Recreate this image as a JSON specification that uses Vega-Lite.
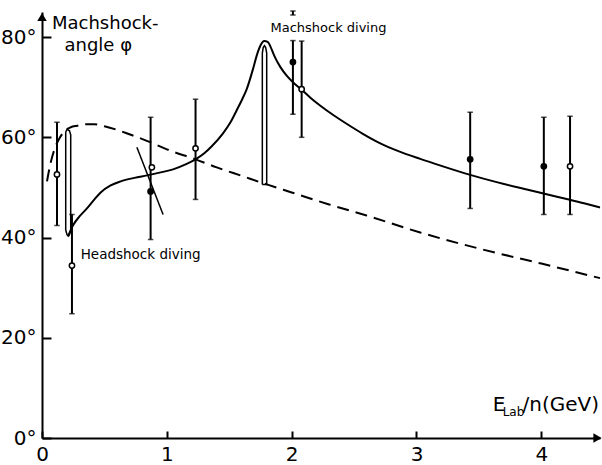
{
  "$schema": "https://vega.github.io/schema/vega-lite/v6.json",
  "width": 558,
  "height": 426,
  "autosize": {"type": "none"},
  "padding": {"left": 42, "top": 12, "right": 2, "bottom": 27},
  "background": "white",
  "config": {
    "view": {"stroke": null},
    "axis": {
      "grid": false,
      "domainColor": "black",
      "domainWidth": 2,
      "tickColor": "black",
      "tickWidth": 2,
      "labelColor": "black",
      "labelFont": "DejaVu Sans",
      "labelFontSize": 20,
      "title": null
    }
  },
  "datasets": {
    "dashed": [
      {"x": 0.04, "y": 51.2}, {"x": 0.07, "y": 55}, {"x": 0.1, "y": 57.6}, {"x": 0.14, "y": 59.8},
      {"x": 0.18, "y": 61.2}, {"x": 0.23, "y": 62}, {"x": 0.28, "y": 62.3}, {"x": 0.35, "y": 62.6},
      {"x": 0.42, "y": 62.6}, {"x": 0.5, "y": 62.2}, {"x": 0.6, "y": 61.5}, {"x": 0.7, "y": 60.6},
      {"x": 0.85, "y": 59.2}, {"x": 1.0, "y": 57.6}, {"x": 1.23, "y": 55.6}, {"x": 1.4, "y": 54},
      {"x": 1.6, "y": 52.3}, {"x": 1.8, "y": 50.6}, {"x": 2.0, "y": 49}, {"x": 2.3, "y": 46.6},
      {"x": 2.6, "y": 44.4}, {"x": 3.03, "y": 41}, {"x": 3.5, "y": 37.8}, {"x": 4.0, "y": 34.8},
      {"x": 4.47, "y": 31.9}
    ],
    "solid": [
      {"x": 0.21, "y": 40.3}, {"x": 0.25, "y": 42.5}, {"x": 0.3, "y": 44.2}, {"x": 0.36, "y": 45.8},
      {"x": 0.42, "y": 47.6}, {"x": 0.47, "y": 49}, {"x": 0.55, "y": 50.4}, {"x": 0.63, "y": 51.2},
      {"x": 0.74, "y": 51.9}, {"x": 0.84, "y": 52.4}, {"x": 0.95, "y": 53}, {"x": 1.05, "y": 53.6},
      {"x": 1.15, "y": 54.6}, {"x": 1.23, "y": 55.6}, {"x": 1.3, "y": 56.8}, {"x": 1.36, "y": 58.2},
      {"x": 1.45, "y": 60.8}, {"x": 1.51, "y": 63}, {"x": 1.56, "y": 65.4}, {"x": 1.6, "y": 67.4},
      {"x": 1.64, "y": 69.6}, {"x": 1.69, "y": 73.6}, {"x": 1.72, "y": 76.3}, {"x": 1.75, "y": 78.3},
      {"x": 1.78, "y": 79.2}, {"x": 1.81, "y": 79}, {"x": 1.83, "y": 78.1}, {"x": 1.86, "y": 76.3},
      {"x": 1.91, "y": 74}, {"x": 1.96, "y": 72.3}, {"x": 2.01, "y": 71}, {"x": 2.08, "y": 69.5},
      {"x": 2.15, "y": 67.9}, {"x": 2.23, "y": 66.3}, {"x": 2.33, "y": 64.5}, {"x": 2.44, "y": 62.7},
      {"x": 2.57, "y": 60.7}, {"x": 2.71, "y": 58.8}, {"x": 2.86, "y": 57.2}, {"x": 3.03, "y": 55.7},
      {"x": 3.2, "y": 54.3}, {"x": 3.43, "y": 52.5}, {"x": 3.65, "y": 51}, {"x": 3.9, "y": 49.5},
      {"x": 4.1, "y": 48.3}, {"x": 4.22, "y": 47.6}, {"x": 4.35, "y": 46.8}, {"x": 4.47, "y": 46}
    ],
    "loops": [
      {"g": "head", "o": 1, "x": 0.19, "y": 61}, {"g": "head", "o": 2, "x": 0.19, "y": 41.5},
      {"g": "head", "o": 3, "x": 0.2, "y": 40.6}, {"g": "head", "o": 4, "x": 0.21, "y": 40.3},
      {"g": "head", "o": 5, "x": 0.22, "y": 40.6}, {"g": "head", "o": 6, "x": 0.23, "y": 41.5},
      {"g": "head", "o": 7, "x": 0.23, "y": 60.5}, {"g": "head", "o": 8, "x": 0.22, "y": 61.3},
      {"g": "head", "o": 9, "x": 0.2, "y": 61.6}, {"g": "head", "o": 10, "x": 0.19, "y": 61},
      {"g": "mach", "o": 1, "x": 1.765, "y": 50.6}, {"g": "mach", "o": 2, "x": 1.765, "y": 76.8},
      {"g": "mach", "o": 3, "x": 1.772, "y": 77.9}, {"g": "mach", "o": 4, "x": 1.782, "y": 78.3},
      {"g": "mach", "o": 5, "x": 1.792, "y": 77.9}, {"g": "mach", "o": 6, "x": 1.8, "y": 76.8},
      {"g": "mach", "o": 7, "x": 1.8, "y": 50.6}, {"g": "mach", "o": 8, "x": 1.765, "y": 50.6},
      {"g": "slant", "o": 1, "x": 0.76, "y": 58}, {"g": "slant", "o": 2, "x": 0.97, "y": 44.6}
    ],
    "err": [
      {"x": 0.12, "lo": 42.4, "hi": 63},
      {"x": 0.24, "lo": 24.8, "hi": 44.6},
      {"x": 0.87, "lo": 39.6, "hi": 64},
      {"x": 1.23, "lo": 47.6, "hi": 67.6},
      {"x": 2.01, "lo": 64.6, "hi": 79.3},
      {"x": 2.01, "lo": 84.4, "hi": 85.2},
      {"x": 2.08, "lo": 60, "hi": 79.2},
      {"x": 3.43, "lo": 45.8, "hi": 65},
      {"x": 4.02, "lo": 44.6, "hi": 64},
      {"x": 4.23, "lo": 44.6, "hi": 64.2}
    ],
    "pts": [
      {"x": 0.12, "y": 52.6, "kind": "open"},
      {"x": 0.24, "y": 34.4, "kind": "open"},
      {"x": 0.87, "y": 49.2, "kind": "filled"},
      {"x": 0.88, "y": 54, "kind": "open"},
      {"x": 1.23, "y": 57.8, "kind": "open"},
      {"x": 2.01, "y": 75, "kind": "filled"},
      {"x": 2.08, "y": 69.6, "kind": "open"},
      {"x": 3.43, "y": 55.6, "kind": "filled"},
      {"x": 4.02, "y": 54.2, "kind": "filled"},
      {"x": 4.23, "y": 54.2, "kind": "open"}
    ],
    "labels": [
      {"x": 0.08, "y": 82.6, "t": "Machshock-", "s": 18},
      {"x": 0.18, "y": 78.2, "t": "angle φ", "s": 18},
      {"x": 0.31, "y": 36.6, "t": "Headshock diving", "s": 13.5},
      {"x": 1.83, "y": 81.8, "t": "Machshock diving", "s": 13},
      {"x": 3.61, "y": 6.6, "t": "E", "s": 20},
      {"x": 3.69, "y": 5.2, "t": "Lab", "s": 12},
      {"x": 3.85, "y": 6.6, "t": "/n(GeV)", "s": 20}
    ],
    "arrows": [
      {"x": 0, "y": 84, "shape": "triangle-up"},
      {"x": 4.45, "y": 0, "shape": "triangle-right"}
    ]
  },
  "layer": [
    {
      "data": {"name": "dashed"},
      "mark": {"type": "line", "color": "black", "strokeWidth": 2, "strokeDash": [12, 7], "interpolate": "monotone"},
      "encoding": {
        "x": {"field": "x", "type": "quantitative", "scale": {"domain": [0, 4.47], "nice": false},
              "axis": {"values": [0, 1, 2, 3, 4], "format": "d", "tickSize": -7, "labelPadding": 13, "labelFlush": false}},
        "y": {"field": "y", "type": "quantitative", "scale": {"domain": [0, 85], "nice": false},
              "axis": {"values": [0, 20, 40, 60, 80], "labelExpr": "datum.value + '°'", "tickSize": -9, "labelPadding": 15}}
      }
    },
    {
      "data": {"name": "solid"},
      "mark": {"type": "line", "color": "black", "strokeWidth": 2, "interpolate": "monotone"},
      "encoding": {
        "x": {"field": "x", "type": "quantitative"},
        "y": {"field": "y", "type": "quantitative"}
      }
    },
    {
      "data": {"name": "loops"},
      "mark": {"type": "line", "color": "black", "strokeWidth": 1.5},
      "encoding": {
        "x": {"field": "x", "type": "quantitative"},
        "y": {"field": "y", "type": "quantitative"},
        "detail": {"field": "g"},
        "order": {"field": "o", "type": "quantitative"}
      }
    },
    {
      "data": {"name": "err"},
      "mark": {"type": "rule", "color": "black", "strokeWidth": 2},
      "encoding": {
        "x": {"field": "x", "type": "quantitative"},
        "y": {"field": "lo", "type": "quantitative"},
        "y2": {"field": "hi"}
      }
    },
    {
      "data": {"name": "err"},
      "transform": [{"fold": ["lo", "hi"], "as": ["end", "v"]}],
      "mark": {"type": "point", "shape": "M-1,0L1,0", "size": 30, "color": "black", "strokeWidth": 1.5, "filled": false},
      "encoding": {
        "x": {"field": "x", "type": "quantitative"},
        "y": {"field": "v", "type": "quantitative"}
      }
    },
    {
      "data": {"name": "pts"},
      "mark": {"type": "point", "shape": "circle", "size": 28, "stroke": "black", "strokeWidth": 1.5, "opacity": 1},
      "encoding": {
        "x": {"field": "x", "type": "quantitative"},
        "y": {"field": "y", "type": "quantitative"},
        "fill": {"field": "kind", "type": "nominal", "scale": {"domain": ["filled", "open"], "range": ["black", "white"]}, "legend": null}
      }
    },
    {
      "data": {"name": "labels"},
      "mark": {"type": "text", "align": "left", "baseline": "middle", "color": "black", "font": "DejaVu Sans"},
      "encoding": {
        "x": {"field": "x", "type": "quantitative"},
        "y": {"field": "y", "type": "quantitative"},
        "text": {"field": "t"},
        "size": {"field": "s", "type": "quantitative", "scale": null}
      }
    },
    {
      "data": {"name": "arrows"},
      "mark": {"type": "point", "filled": true, "color": "black", "size": 90, "opacity": 1, "clip": false},
      "encoding": {
        "x": {"field": "x", "type": "quantitative"},
        "y": {"field": "y", "type": "quantitative"},
        "shape": {"field": "shape", "type": "nominal", "scale": null}
      }
    }
  ]
}
